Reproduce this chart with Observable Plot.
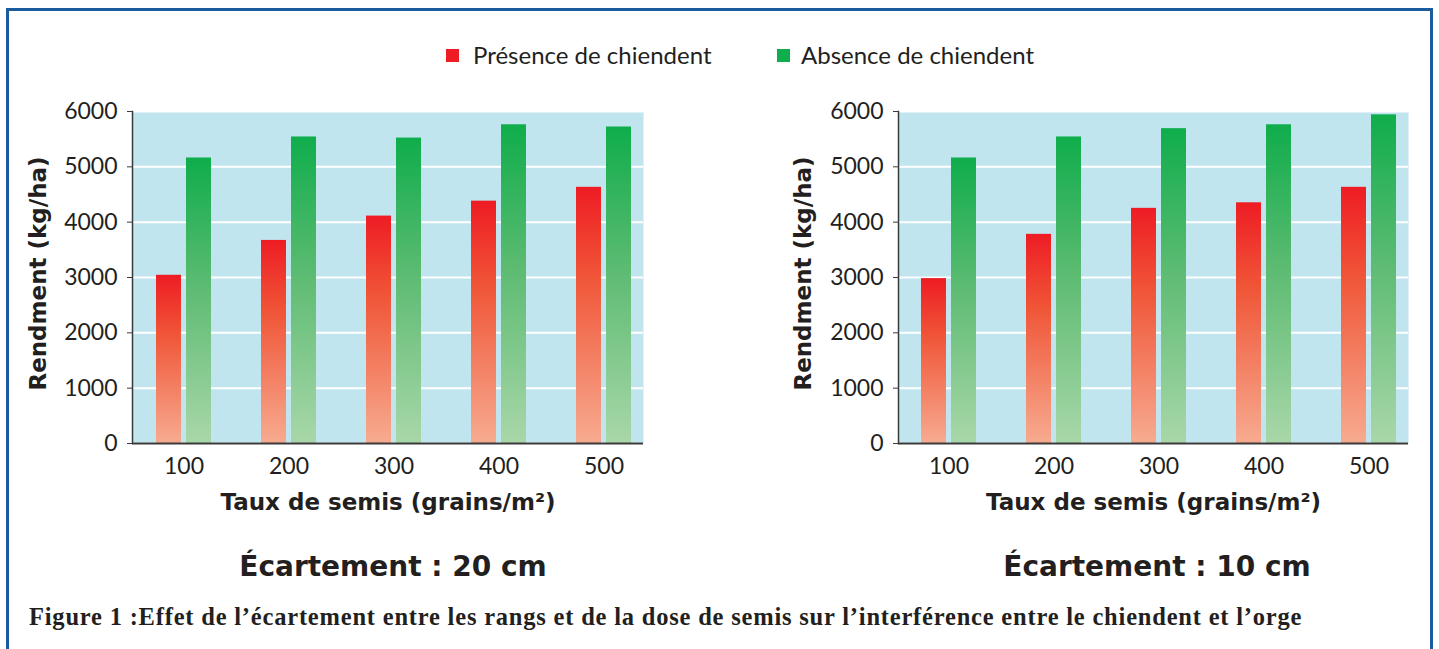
<!DOCTYPE html>
<html lang="fr">
<head>
<meta charset="utf-8">
<script src="https://cdn.jsdelivr.net/npm/d3@7"></script>
<script src="https://cdn.jsdelivr.net/npm/@observablehq/plot@0.6"></script>
<style>
  html, body { margin: 0; padding: 0; background: #fff; }
  #page { position: relative; width: 1439px; height: 649px; overflow: hidden; background: #fff; }
  #box { position: absolute; left: 6px; top: 8px; width: 1421px; height: 700px; border: 3px solid #1b5c9e; box-sizing: content-box; }
  .chart { position: absolute; top: 90px; }
  .chart svg { max-width: none; overflow: visible; }
  .sq { position: absolute; width: 13px; height: 13px; top: 49px; }
  .leg { position: absolute; top: 43px; font-family: Lato, sans-serif; font-size: 24px; line-height: 1; color: #231f20; white-space: nowrap; }
  .title { position: absolute; top: 553px; font-family: "DejaVu Sans", sans-serif; font-weight: bold; font-size: 28px; line-height: 1; color: #231f20; transform: translateX(-50%); white-space: nowrap; }
  .caption { position: absolute; left: 29px; top: 605px; font-family: "Liberation Serif", serif; font-weight: bold; font-size: 24.5px; letter-spacing: 0.8px; line-height: 1; color: #231f20; white-space: nowrap; }
</style>
</head>
<body>
<div id="page">
  <div id="box"></div>
  <div class="sq" style="left:446px;background:#ee1c24"></div>
  <div class="leg" style="left:473px">Présence de chiendent</div>
  <div class="sq" style="left:777px;background:#0fad4b"></div>
  <div class="leg" style="left:801px">Absence de chiendent</div>
  <div id="c1" class="chart" style="left:0px;width:700px"></div>
  <div id="c2" class="chart" style="left:766px;width:673px"></div>
  <div class="title" style="left:393px">Écartement : 20 cm</div>
  <div class="title" style="left:1157px">Écartement : 10 cm</div>
  <div class="caption">Figure 1 :Effet de l’écartement entre les rangs et de la dose de semis sur l’interférence entre le chiendent et l’orge</div>
</div>
<script>
// ---- data ----
const taux = ["100", "200", "300", "400", "500"];
const presence20 = [3040, 3670, 4110, 4380, 4630];
const absence20  = [5160, 5540, 5520, 5760, 5720];
const presence10 = [2980, 3780, 4250, 4350, 4630];
const absence10  = [5160, 5540, 5690, 5760, 5940];
const yTicks = [0, 1000, 2000, 3000, 4000, 5000, 6000];
const yLabel = "Rendment (kg/ha)";
const xLabel = "Taux de semis (grains/m²)";

function chart(presence, absence, id, width, marginRight, ydx) {
  const rows = taux.map((t, i) => ({taux: t, presence: presence[i], absence: absence[i]}));
  const svg = Plot.plot({
    width, height: 440,
    marginTop: 21, marginBottom: 87, marginLeft: 132, marginRight,
    style: {background: "none", overflow: "visible", fontFamily: "Lato, sans-serif", color: "#231f20"},
    x: {type: "band", domain: taux, paddingInner: 0.479, paddingOuter: 0.159, align: 0.655},
    y: {domain: [0, 6000]},
    marks: [
      Plot.frame({fill: "#c1e5ef", stroke: "none"}),
      Plot.gridY(yTicks, {stroke: "#ffffff", strokeOpacity: 1, strokeWidth: 2}),
      Plot.barY(rows, {x: "taux", y: "presence", fill: `url(#red-${id})`, insetRight: 30}),
      Plot.barY(rows, {x: "taux", y: "absence", fill: `url(#green-${id})`, insetLeft: 30}),
      Plot.ruleY([0], {stroke: "#3a3a3a", strokeWidth: 2}),
      Plot.frame({anchor: "left", stroke: "#3a3a3a", strokeWidth: 1.5}),
      Plot.axisY({ticks: yTicks, tickSize: 5, tickPadding: 10, fontSize: 23, label: null, color: "#231f20", stroke: "#3a3a3a", tickFormat: d => String(d)}),
      Plot.axisX({tickSize: 0, tickPadding: 14, fontSize: 23, label: null, color: "#231f20"}),
      Plot.text([yLabel], {text: d => d, frameAnchor: "left", textAnchor: "middle", lineAnchor: "middle", rotate: -90, dx: ydx, dy: -4, fontWeight: "bold", fontSize: 23, fontFamily: "DejaVu Sans, sans-serif", fill: "#231f20"}),
      Plot.text([xLabel], {text: d => d, frameAnchor: "bottom", textAnchor: "middle", lineAnchor: "middle", dy: 59, fontWeight: "bold", fontSize: 23, fontFamily: "DejaVu Sans, sans-serif", fill: "#231f20"})
    ]
  });
  const defs = d3.select(svg).insert("defs", ":first-child");
  const grads = [
    [`red-${id}`, [[0, "#ee1c24"], [0.35, "#f05537"], [1, "#f7ab90"]]],
    [`green-${id}`, [[0, "#0fad4b"], [0.45, "#5cbb72"], [1, "#a9d7a9"]]]
  ];
  for (const [gid, stops] of grads) {
    const g = defs.append("linearGradient").attr("id", gid).attr("x1", 0).attr("y1", 0).attr("x2", 0).attr("y2", 1);
    for (const [o, c] of stops) g.append("stop").attr("offset", o).attr("stop-color", c);
  }
  return svg;
}

document.getElementById("c1").appendChild(chart(presence20, absence20, "a", 700, 57, -94));
document.getElementById("c2").appendChild(chart(presence10, absence10, "b", 673, 31, -95));
</script>
</body>
</html>
